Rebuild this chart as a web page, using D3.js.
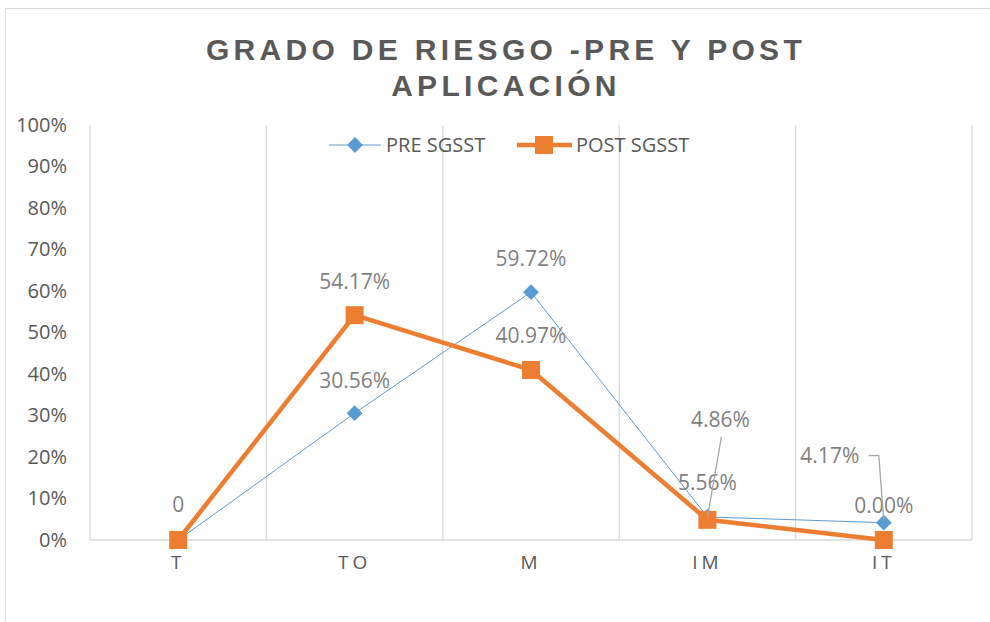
<!DOCTYPE html>
<html>
<head>
<meta charset="utf-8">
<script src="https://cdn.jsdelivr.net/npm/d3@7"></script>
<style>
  body { margin: 0; background: #fff; }
  svg { display: block; font-family: "Open Sans", "Liberation Sans", sans-serif; }
</style>
</head>
<body>
<svg width="990" height="622"></svg>
<script>
var svg_width = 990
var svg_height = 622

// data
var categories = ["T", "TO", "M", "IM", "IT"]
var preValues = [0, 0.3056, 0.5972, 0.0556, 0.0417]
var postValues = [0, 0.5417, 0.4097, 0.0486, 0]
var yTicks = [0, 0.1, 0.2, 0.3, 0.4, 0.5, 0.6, 0.7, 0.8, 0.9, 1]
var preLabels = ["", "30.56%", "59.72%", "5.56%", "4.17%"]
var postLabels = ["0", "54.17%", "40.97%", "4.86%", "0.00%"]

var plot = { left: 90, right: 972, top: 125, bottom: 540 }
var blue = "#5b9bd5", orange = "#ed7d31", grid = "#d9d9d9", textGray = "#595959", labelGray = "#7f7f7f"

var svg = d3.select("svg")

// chart area border (right and bottom edges fall outside the picture)
svg.append("rect")
    .attr("x", 5.5).attr("y", 8.5)
    .attr("width", 1020).attr("height", 700)
    .attr("fill", "none").attr("stroke", grid)

//SCALES
var xScale = d3.scaleBand()
               .domain(categories)
               .range([plot.left, plot.right])
var yScale = d3.scaleLinear()
               .domain([0, 1])
               .range([plot.bottom, plot.top])

function cx(i) { return xScale(categories[i]) + xScale.bandwidth() / 2 }

// vertical gridlines at category boundaries
var bounds = categories.map(function(c) { return xScale(c) }).concat([plot.right])
svg.append("g").selectAll("line")
    .data(bounds)
    .enter().append("line")
      .attr("x1", function(d) { return d }).attr("x2", function(d) { return d })
      .attr("y1", plot.top).attr("y2", plot.bottom)
      .attr("stroke", grid).attr("stroke-width", 1.3)

// x axis line
svg.append("line")
    .attr("x1", plot.left).attr("x2", plot.right)
    .attr("y1", plot.bottom).attr("y2", plot.bottom)
    .attr("stroke", grid).attr("stroke-width", 1.3)

// y axis labels
var yAxis = d3.axisLeft(yScale)
              .tickValues(yTicks)
              .tickFormat(d3.format(".0%"))
              .tickSize(0)
              .tickPadding(23)
var gy = svg.append("g")
    .attr("transform", "translate(" + plot.left + ",0)")
    .call(yAxis)
gy.select(".domain").remove()
gy.selectAll("text")
    .attr("fill", textGray)
    .attr("font-size", "20px")
    .attr("font-family", "Open Sans, Liberation Sans, sans-serif")

// x axis labels
var xAxis = d3.axisBottom(xScale).tickSize(0).tickPadding(16)
var gx = svg.append("g")
    .attr("transform", "translate(0," + plot.bottom + ")")
    .call(xAxis)
gx.select(".domain").remove()
gx.selectAll("text")
    .attr("fill", textGray)
    .attr("font-size", "19px")
    .attr("letter-spacing", "4px")
    .attr("font-family", "Open Sans, Liberation Sans, sans-serif")

// lines
var line = d3.line()
    .x(function(d, i) { return cx(i) })
    .y(function(d) { return yScale(d) })

svg.append("path")
    .datum(preValues)
    .attr("d", line)
    .attr("fill", "none").attr("stroke", blue).attr("stroke-width", 1)

svg.append("path")
    .datum(postValues)
    .attr("d", line)
    .attr("fill", "none").attr("stroke", orange).attr("stroke-width", 4.5)
    .attr("stroke-linejoin", "round")

// markers
var diamond = d3.symbol().type(d3.symbolDiamond2).size(160)
svg.append("g").selectAll("path")
    .data(preValues)
    .enter().append("path")
      .attr("d", diamond)
      .attr("transform", function(d, i) { return "translate(" + cx(i) + "," + yScale(d) + ")" })
      .attr("fill", blue)

svg.append("g").selectAll("rect")
    .data(postValues)
    .enter().append("rect")
      .attr("x", function(d, i) { return cx(i) - 9 })
      .attr("y", function(d) { return yScale(d) - 9 })
      .attr("width", 18).attr("height", 18)
      .attr("fill", orange)

// data labels (offsets as placed in the reference)
var preOffsets = [[0, 0], [0, -25], [0, -26], [0, -27], [-54, -60]]
var postOffsets = [[0, -28], [0, -26], [0, -27], [13, -93], [0, -27]]

function addLabels(vals, labels, offsets) {
    svg.append("g").selectAll("text")
        .data(vals)
        .enter().append("text")
          .attr("x", function(d, i) { return cx(i) + offsets[i][0] })
          .attr("y", function(d, i) { return yScale(d) + offsets[i][1] })
          .attr("text-anchor", "middle")
          .attr("fill", labelGray)
          .attr("font-size", "21px")
          .text(function(d, i) { return labels[i] })
}
addLabels(preValues, preLabels, preOffsets)
addLabels(postValues, postLabels, postOffsets)

// leader lines
svg.append("path")
    .attr("d", "M" + (cx(3) + 14) + "," + (yScale(postValues[3]) - 83) + "L" + cx(3) + "," + (yScale(postValues[3]) - 2))
    .attr("fill", "none").attr("stroke", "#a6a6a6").attr("stroke-width", 1.3)
svg.append("path")
    .attr("d", "M" + (cx(4) - 15) + "," + (yScale(preValues[4]) - 67) + "h10L" + cx(4) + "," + (yScale(preValues[4]) - 2))
    .attr("fill", "none").attr("stroke", "#a6a6a6").attr("stroke-width", 1.3)

// legend
var legend = svg.append("g").attr("transform", "translate(0,145)")
legend.append("line").attr("x1", 329).attr("x2", 381).attr("stroke", blue).attr("stroke-width", 1)
legend.append("path").attr("d", diamond).attr("transform", "translate(355,0)").attr("fill", blue)
legend.append("text").attr("x", 386).attr("dy", "0.35em").attr("fill", textGray).attr("font-size", "20px").text("PRE SGSST")
legend.append("line").attr("x1", 517).attr("x2", 572).attr("stroke", orange).attr("stroke-width", 4.5)
legend.append("rect").attr("x", 535).attr("y", -9).attr("width", 18).attr("height", 18).attr("fill", orange)
legend.append("text").attr("x", 576).attr("dy", "0.35em").attr("fill", textGray).attr("font-size", "20px").text("POST SGSST")

// title
var title = svg.append("text")
    .attr("x", 506)
    .attr("text-anchor", "middle")
    .attr("fill", textGray)
    .attr("font-size", "30px")
    .attr("font-weight", "bold")
    .attr("letter-spacing", "4.3px")
    .attr("font-family", "Liberation Sans, Arial, sans-serif")
title.append("tspan").attr("x", 506).attr("y", 60).text("GRADO DE RIESGO -PRE Y POST")
title.append("tspan").attr("x", 506).attr("y", 96).text("APLICACIÓN")
</script>
</body>
</html>
